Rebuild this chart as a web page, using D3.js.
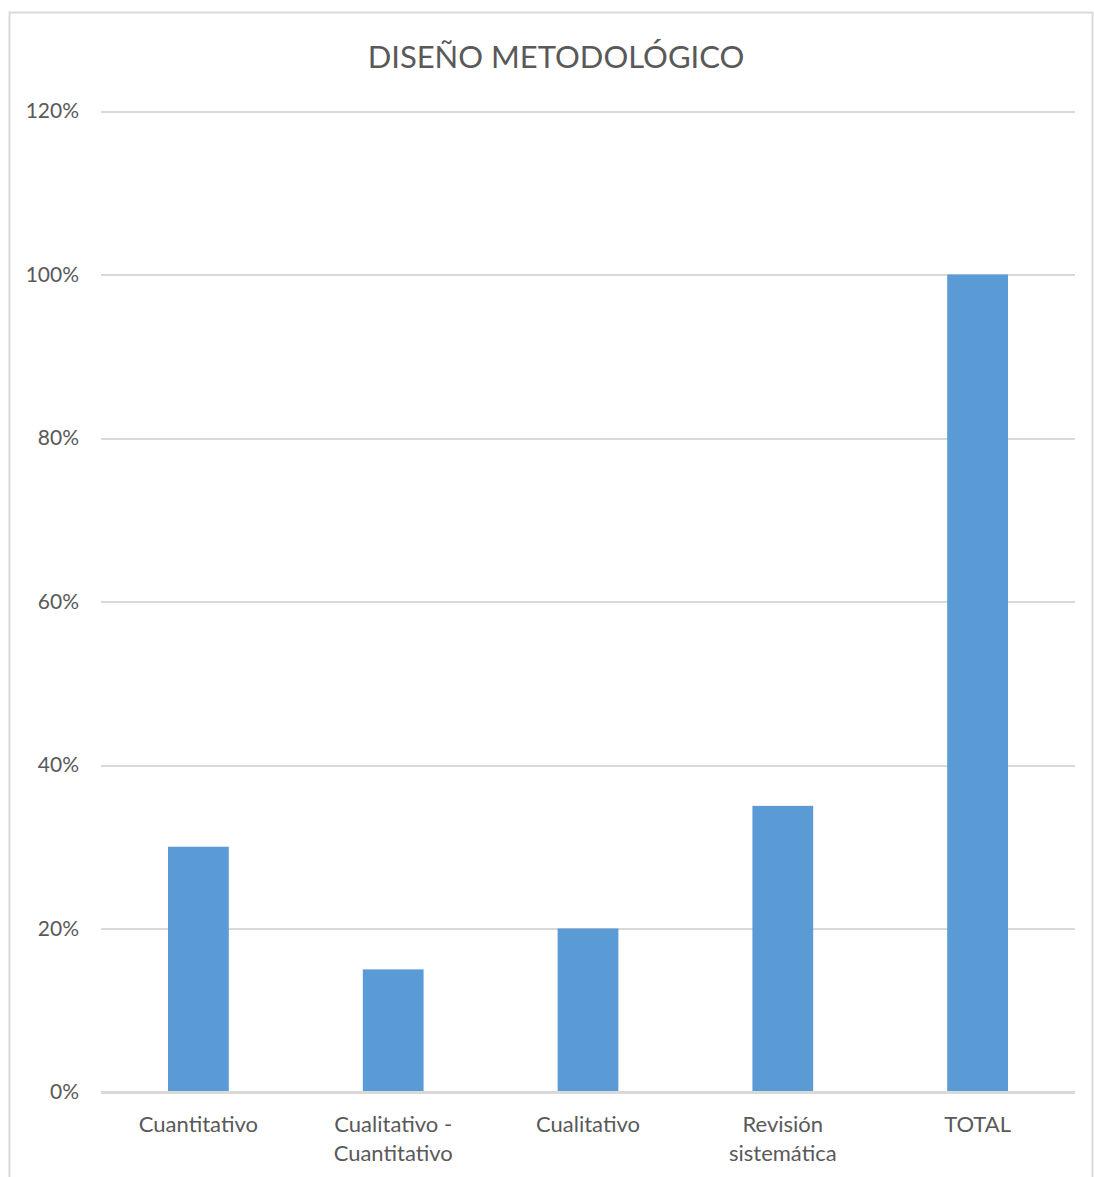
<!DOCTYPE html>
<html>
<head>
    <title>Diseño metodológico</title>
    <script src="https://d3js.org/d3.v7.min.js"></script>
    <style>
        * { margin: 0; padding: 0; box-sizing: border-box; }
        body { background: #fff; width: 1094px; height: 1177px; overflow: hidden; }
        text { font-family: Lato, 'Open Sans', sans-serif; fill: #595959; }
        .grid line { stroke: #d9d9d9; stroke-width: 2px; shape-rendering: crispEdges; }
        .grid path { stroke-width: 0; }
        .bar { fill: #5b9bd5; }
    </style>
</head>
<body>
<div id="chart"></div>
<script>
    // data
    const categories = [["Cuantitativo"], ["Cualitativo -", "Cuantitativo"], ["Cualitativo"], ["Revisión", "sistemática"], ["TOTAL"]];
    const values = [0.30, 0.15, 0.20, 0.35, 1.00];
    const yTicks = [0, 0.2, 0.4, 0.6, 0.8, 1.0, 1.2];
    const title = "DISEÑO METODOLÓGICO";

    const W = 1094, H = 1177;
    const margin = {top: 111, right: 19, bottom: 85, left: 101};
    const width = W - margin.left - margin.right;
    const height = 1092 - margin.top;

    const root = d3.select("#chart").append("svg")
        .attr("width", W)
        .attr("height", H);

    // outer border
    root.append("rect")
        .attr("x", 9.5).attr("y", 12.5)
        .attr("width", 1083).attr("height", 1200)
        .attr("fill", "none")
        .attr("stroke", "#d9d9d9")
        .attr("stroke-width", 2);

    root.append("text")
        .attr("x", 556)
        .attr("y", 68)
        .attr("text-anchor", "middle")
        .style("font-size", "31px")
        .text(title);

    const svg = root.append("g")
        .attr("transform", `translate(${margin.left},${margin.top})`);

    const keys = categories.map((c, i) => i);
    const x = d3.scaleBand().domain(keys).range([0, width]).paddingInner(0.688).paddingOuter(0.344);
    const y = d3.scaleLinear().domain([0, 1.2]).range([height, 0]);

    // gridlines
    svg.append("g")
        .attr("class", "grid")
        .call(d3.axisLeft(y).tickValues(yTicks).tickSize(-width).tickFormat(""));

    // y labels
    svg.selectAll(".ylab")
        .data(yTicks)
        .join("text")
        .attr("class", "ylab")
        .attr("x", -22)
        .attr("y", d => y(d))
        .attr("dy", "0.35em")
        .attr("text-anchor", "end")
        .style("font-size", "21px")
        .text(d => d3.format(".0%")(d));

    // bars
    svg.selectAll(".bar")
        .data(values)
        .join("rect")
        .attr("class", "bar")
        .attr("x", (d, i) => x(i))
        .attr("y", d => y(d))
        .attr("width", x.bandwidth())
        .attr("height", d => height - y(d));

    // redraw baseline on top
    svg.append("line")
        .attr("x1", 0).attr("x2", width)
        .attr("y1", y(0)).attr("y2", y(0))
        .attr("stroke", "#d9d9d9").attr("stroke-width", 2)
        .style("shape-rendering", "crispEdges");

    // category labels
    const xl = svg.selectAll(".xlab")
        .data(categories)
        .join("text")
        .attr("class", "xlab")
        .attr("text-anchor", "middle")
        .attr("transform", (d, i) => `translate(${x(i) + x.bandwidth() / 2},${height + 40})`)
        .style("font-size", "22px");
    xl.selectAll("tspan")
        .data(d => d)
        .join("tspan")
        .attr("x", 0)
        .attr("y", (d, i) => i * 29)
        .text(d => d);
</script>
</body>
</html>
